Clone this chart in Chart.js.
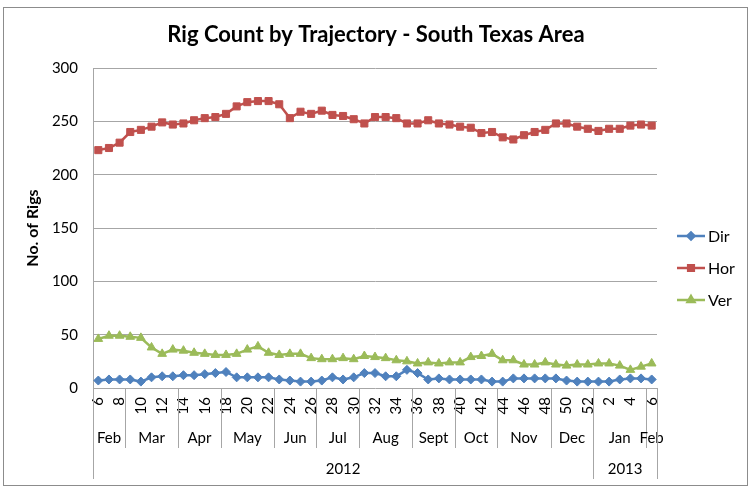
<!DOCTYPE html>
<html>
<head>
<meta charset="utf-8">
<title>Rig Count by Trajectory - South Texas Area</title>
<script src="https://cdn.jsdelivr.net/npm/chart.js@4.4.1/dist/chart.umd.min.js"></script>
<style>
  html, body { margin: 0; padding: 0; background: #fff; }
  #wrap { width: 751px; height: 487px; }
</style>
</head>
<body>
<div id="wrap"><canvas id="line-chart" width="751" height="487"></canvas></div>
<script>
// week numbers, Feb 2012 (wk 6) to Feb 2013 (wk 6)
var weeks = [6, 7, 8, 9, 10, 11, 12, 13, 14, 15, 16, 17, 18, 19, 20, 21, 22, 23, 24, 25,
  26, 27, 28, 29, 30, 31, 32, 33, 34, 35, 36, 37, 38, 39, 40, 41, 42, 43, 44, 45, 46, 47,
  48, 49, 50, 51, 52, 1, 2, 3, 4, 5, 6];

var dirRigs = [7, 8, 8, 8, 6, 10, 11, 11, 12, 12, 13, 14, 15, 10, 10, 10, 10, 8, 7, 6,
  6, 7, 10, 8, 10, 14, 14, 11, 11, 17, 14, 8, 9, 8, 8, 8, 8, 6, 6, 9,
  9, 9, 9, 9, 7, 6, 6, 6, 6, 8, 9, 9, 8];

var horRigs = [223, 225, 230, 240, 242, 245, 249, 247, 248, 251, 253, 254, 257, 264, 268, 269, 269, 266, 253, 259,
  257, 260, 256, 255, 252, 248, 254, 254, 253, 248, 248, 251, 248, 247, 245, 244, 239, 240, 235, 233,
  237, 240, 242, 248, 248, 245, 243, 241, 243, 243, 246, 247, 246];

var verRigs = [46, 49, 49, 48, 47, 38, 32, 36, 35, 33, 32, 31, 31, 32, 36, 39, 33, 31, 32, 32,
  28, 27, 27, 28, 27, 30, 29, 28, 26, 25, 23, 24, 23, 24, 24, 29, 30, 32, 26, 26,
  22, 22, 24, 22, 21, 22, 22, 23, 23, 21, 17, 20, 23];

// second and third label rows (how many weeks each one covers)
var months = ['Feb', 'Mar', 'Apr', 'May', 'Jun', 'Jul', 'Aug', 'Sept', 'Oct', 'Nov', 'Dec', 'Jan', 'Feb'];
var monthWeeks = [3, 5, 4, 5, 4, 4, 5, 4, 4, 5, 4, 5, 1];
var years = ['2012', '2013'];
var yearWeeks = [47, 6];

var chartTitle = 'Rig Count by Trajectory - South Texas Area';

var FONT = 'Lato, "Open Sans", sans-serif';
var GRID = '#a6a6a6';

// x of the border between category i-1 and i
function edgeX(scale, i) {
  var step = scale.getPixelForValue(1) - scale.getPixelForValue(0);
  return scale.getPixelForValue(i) - step / 2;
}

var groupLabels = {
  id: 'groupLabels',
  beforeDraw: function (chart) {
    var ctx = chart.ctx;
    ctx.save();
    ctx.fillStyle = '#fff';
    ctx.fillRect(0, 0, chart.width, chart.height);
    ctx.strokeStyle = '#8c8c8c';
    ctx.lineWidth = 1;
    ctx.strokeRect(3.5, 7.5, 744, 478);
    // title, centred on the whole frame
    ctx.fillStyle = '#000';
    ctx.font = 'bold 22px ' + FONT;
    ctx.textAlign = 'center';
    ctx.textBaseline = 'middle';
    ctx.fillText(chartTitle, 376, 35);
    ctx.restore();
  },
  afterDraw: function (chart) {
    var ctx = chart.ctx;
    var x = chart.scales.x;
    var top = chart.chartArea.bottom;
    ctx.save();
    ctx.strokeStyle = GRID;
    ctx.lineWidth = 1;
    ctx.fillStyle = '#000';
    ctx.font = '15px ' + FONT;
    ctx.textAlign = 'center';
    ctx.textBaseline = 'middle';

    var i = 0, k, a, b, px;
    for (k = 0; k < months.length; k++) {
      a = edgeX(x, i);
      b = edgeX(x, i + monthWeeks[k]);
      px = Math.round(a) + 0.5;
      ctx.beginPath(); ctx.moveTo(px, top); ctx.lineTo(px, top + 60); ctx.stroke();
      ctx.fillText(months[k], (a + b) / 2, top + 50);
      i += monthWeeks[k];
    }

    i = 0;
    for (k = 0; k < years.length; k++) {
      a = edgeX(x, i);
      b = edgeX(x, i + yearWeeks[k]);
      px = Math.round(a) + 0.5;
      ctx.beginPath(); ctx.moveTo(px, top); ctx.lineTo(px, top + 91); ctx.stroke();
      ctx.fillText(years[k], (a + b) / 2, top + 81);
      i += yearWeeks[k];
    }
    px = Math.round(edgeX(x, i)) + 0.5;
    ctx.beginPath(); ctx.moveTo(px, top); ctx.lineTo(px, top + 91); ctx.stroke();

    // legend on the right
    var lx = chart.chartArea.right + 20;
    var ly = chart.chartArea.top + 168;
    chart.data.datasets.forEach(function (ds, n) {
      var y = ly + n * 32;
      ctx.strokeStyle = ds.borderColor;
      ctx.lineWidth = 2.5;
      ctx.beginPath(); ctx.moveTo(lx, y); ctx.lineTo(lx + 28, y); ctx.stroke();
      ctx.fillStyle = ds.borderColor;
      Chart.helpers.drawPoint(ctx, { pointStyle: ds.pointStyle, radius: ds.pointRadius - 1, rotation: 0, borderWidth: 1 }, lx + 14, y);
      ctx.fillStyle = '#000';
      ctx.font = '16px ' + FONT;
      ctx.textAlign = 'left';
      ctx.fillText(ds.label, lx + 31, y + 1);
    });
    ctx.restore();
  }
};

function series(name, values, color, style, r) {
  return {
    label: name,
    data: values,
    borderColor: color,
    backgroundColor: color,
    borderWidth: 2.5,
    pointStyle: style,
    pointRadius: r,
    pointBorderWidth: 1,
    tension: 0
  };
}

new Chart(document.getElementById('line-chart'), {
  type: 'line',
  data: {
    labels: weeks,
    datasets: [
      series('Dir', dirRigs, '#4f81bd', 'rectRot', 4.5),
      series('Hor', horRigs, '#c0504d', 'rect', 5),
      series('Ver', verRigs, '#9bbb59', 'triangle', 5)
    ]
  },
  options: {
    responsive: false,
    animation: false,
    layout: { padding: { left: 0, right: 94, top: 68, bottom: 0 } },
    plugins: {
      legend: { display: false },
      tooltip: { enabled: false },
      title: { display: false }
    },
    scales: {
      x: {
        offset: true,
        grid: { display: false, drawTicks: false },
        border: { display: false },
        ticks: {
          autoSkip: false,
          minRotation: 90,
          maxRotation: 90,
          padding: 9,
          color: '#000',
          font: { family: FONT, size: 15 },
          callback: function (v, i) { return i % 2 === 0 ? this.getLabelForValue(v) : ''; }
        },
        afterFit: function (s) { s.height = 99; }
      },
      y: {
        min: 0,
        max: 300,
        ticks: { stepSize: 50, padding: 15, color: '#000', font: { family: FONT, size: 15 } },
        grid: { color: GRID, drawTicks: false },
        border: { color: GRID },
        title: {
          display: true,
          text: 'No. of Rigs',
          color: '#000',
          font: { family: FONT, size: 16, weight: 'bold' },
          padding: { top: 23, bottom: 0 }
        },
        afterFit: function (s) { s.width = 93; }
      }
    }
  },
  plugins: [groupLabels]
});
</script>
</body>
</html>
